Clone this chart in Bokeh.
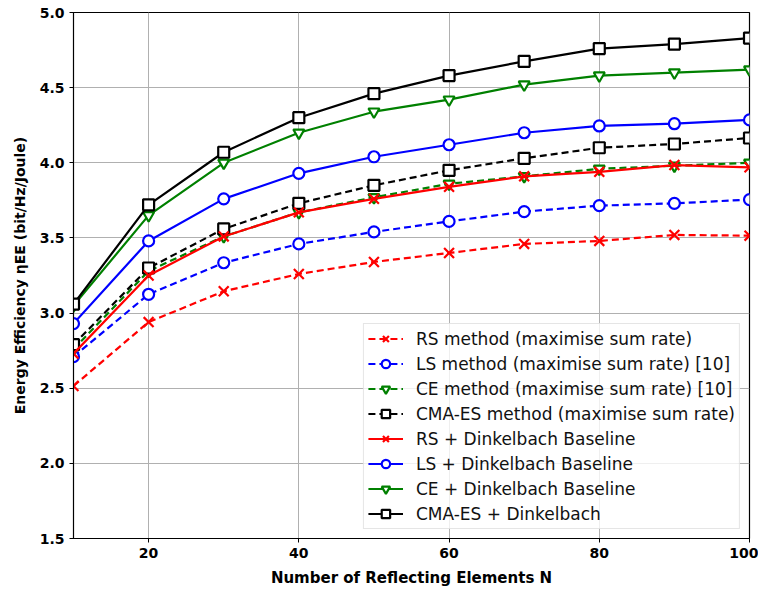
from bokeh.plotting import figure
from bokeh.models import Legend, LegendItem, FixedTicker, PrintfTickFormatter, Range1d
from bokeh.embed import file_html
from bokeh.resources import INLINE

N = [10, 20, 30, 40, 50, 60, 70, 80, 90, 100]

rs_sum = [2.515, 2.94, 3.145, 3.26, 3.34, 3.40, 3.46, 3.48, 3.52, 3.515]
ls_sum = [2.71, 3.125, 3.335, 3.46, 3.54, 3.61, 3.675, 3.715, 3.73, 3.755]
ce_sum = [2.76, 3.28, 3.51, 3.67, 3.77, 3.86, 3.91, 3.96, 3.98, 4.00]
cma_sum = [2.79, 3.30, 3.56, 3.73, 3.85, 3.95, 4.03, 4.10, 4.125, 4.165]
rs_dink = [2.73, 3.25, 3.51, 3.67, 3.76, 3.84, 3.91, 3.94, 3.985, 3.97]
ls_dink = [2.93, 3.48, 3.76, 3.93, 4.04, 4.12, 4.20, 4.245, 4.26, 4.285]
ce_dink = [3.05, 3.65, 4.00, 4.20, 4.34, 4.42, 4.52, 4.58, 4.60, 4.62]
cma_dink = [3.06, 3.72, 4.07, 4.30, 4.46, 4.58, 4.675, 4.76, 4.79, 4.83]

labels = [
    "RS method (maximise sum rate)",
    "LS method (maximise sum rate) [10]",
    "CE method (maximise sum rate) [10]",
    "CMA-ES method (maximise sum rate)",
    "RS + Dinkelbach Baseline",
    "LS + Dinkelbach Baseline",
    "CE + Dinkelbach Baseline",
    "CMA-ES + Dinkelbach",
]
series = [rs_sum, ls_sum, ce_sum, cma_sum, rs_dink, ls_dink, ce_dink, cma_dink]
colors = ["#ff0000", "#0000ff", "#008000", "#000000"] * 2
markers = ["x", "circle", "inverted_triangle", "square"] * 2
dashes = ["dashed"] * 4 + ["solid"] * 4

x_ticks = [20, 40, 60, 80, 100]
y_ticks = [1.5, 2.0, 2.5, 3.0, 3.5, 4.0, 4.5, 5.0]

p = figure(width=758, height=589, output_backend="svg", toolbar_location=None,
           x_range=Range1d(10, 100), y_range=Range1d(1.5, 5.0),
           min_border_left=73, min_border_right=9, min_border_top=12, min_border_bottom=49)

p.outline_line_color = "black"
p.outline_line_width = 1.2

for ax in (p.xaxis[0], p.yaxis[0]):
    ax.major_label_text_font = "DejaVu Sans"
    ax.major_label_text_font_style = "bold"
    ax.major_label_text_font_size = "14px"
    ax.major_label_text_color = "black"
    ax.axis_label_text_font = "DejaVu Sans"
    ax.axis_label_text_font_style = "bold"
    ax.axis_label_text_font_size = "14px"
    ax.axis_label_text_color = "black"
    ax.major_tick_in = 0
    ax.major_tick_out = 4
    ax.minor_tick_line_color = None
    ax.axis_line_color = "black"

p.xaxis.ticker = FixedTicker(ticks=x_ticks)
p.yaxis.ticker = FixedTicker(ticks=y_ticks)
p.yaxis.formatter = PrintfTickFormatter(format="%.1f")
p.xaxis.axis_label = "Number of Reflecting Elements N"
p.xaxis.axis_label_text_font_size = "15px"
p.yaxis.axis_label = "Energy Efficiency \u03b7EE (bit/Hz/Joule)"
p.xaxis.axis_label_standoff = 8
p.yaxis.axis_label_standoff = 9

p.grid.grid_line_color = "#b0b0b0"
p.grid.grid_line_width = 1

items = []
for lab, ys, c, m, d in zip(labels, series, colors, markers, dashes):
    ln = p.line(N, ys, line_color=c, line_width=2.2, line_dash=d if d == "solid" else "7 4")
    sc = p.scatter(N, ys, marker=m, size=11 if m != "x" else 14, line_color=c,
                   fill_color="white", line_width=2.2)
    items.append(LegendItem(label=lab, renderers=[ln, sc]))

legend = Legend(items=items, location="bottom_right")
legend.label_text_font = "DejaVu Sans"
legend.label_text_font_size = "17px"
legend.label_text_color = "#111111"
legend.glyph_width = 35
legend.label_standoff = 13
legend.spacing = 4
legend.label_height = 21
legend.glyph_height = 21
legend.padding = 4
legend.margin = 9
legend.border_line_color = "#cccccc"
legend.border_line_width = 1
legend.background_fill_alpha = 0.8
p.add_layout(legend)

open("out.html", "w").write(file_html(p, INLINE))
